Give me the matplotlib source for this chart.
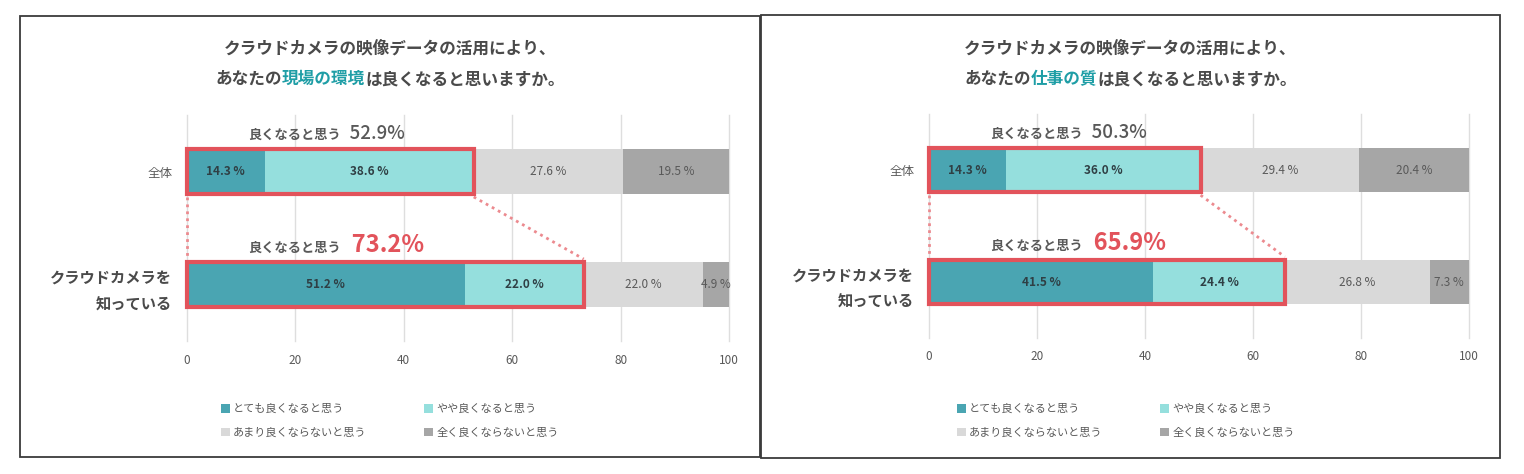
import matplotlib
matplotlib.use('Agg')
import matplotlib.pyplot as plt
from matplotlib.patches import Rectangle

plt.rcParams['font.family'] = ['Noto Sans CJK JP', 'DejaVu Sans']

W, H = 1524, 474

# data
categories = ['全体', 'クラウドカメラを\n知っている']
series_names = ['とても良くなると思う', 'やや良くなると思う',
                'あまり良くならないと思う', '全く良くならないと思う']
left_overall = [14.3, 38.6, 27.6, 19.5]
left_aware = [51.2, 22.0, 22.0, 4.9]
right_overall = [14.3, 36.0, 29.4, 20.4]
right_aware = [41.5, 24.4, 26.8, 7.3]
x_ticks = [0, 20, 40, 60, 80, 100]

title_line1 = 'クラウドカメラの映像データの活用により、'
title_pre = 'あなたの'
title_post = 'は良くなると思いますか。'
left_focus = '現場の環境'
right_focus = '仕事の質'
good_text = '良くなると思う'

colors = ['#4aa5b2', '#95dfdd', '#d9d9d9', '#a6a6a6']
label_colors = ['#2f3f44', '#2f3f44', '#595959', '#595959']
label_weights = ['bold', 'bold', 'normal', 'normal']
red = '#e2535b'
pink = '#ec8a8f'
teal = '#1f9ea6'
grey = '#595959'
dark = '#4a4a4a'

fig = plt.figure(figsize=(W / 100, H / 100), dpi=100)
renderer = fig.canvas.get_renderer()


def text_row(x, y, pieces, ha='left'):
    # place differently styled strings next to each other, x/y in fig fraction
    ts = [fig.text(x, y, s, va='baseline', ha='left', **kw) for s, kw in pieces]
    ws = [t.get_window_extent(renderer).width / W for t in ts]
    x0 = x - sum(ws) / 2 if ha == 'center' else x
    for t, w in zip(ts, ws):
        t.set_x(x0)
        x0 += w


def draw_panel(box, axbox, rows, focus, legend_xy):
    x0, y0, x1, y1 = box
    fig.patches.append(Rectangle((x0 / W, 1 - y1 / H), (x1 - x0) / W, (y1 - y0) / H,
                                 transform=fig.transFigure, fill=False,
                                 ec='#3a3a3a', lw=1.3))
    cx = (x0 + x1) / 2
    tkw = dict(fontsize=12, weight='bold', color=dark)
    text_row(cx / W, 1 - 53 / H, [(title_line1, tkw)], ha='center')
    text_row(cx / W, 1 - 84 / H,
             [(title_pre, tkw),
              (focus, dict(tkw, color=teal)),
              (title_post, tkw)], ha='center')

    al, at, ar, ab = axbox
    ax = fig.add_axes([al / W, 1 - ab / H, (ar - al) / W, (ab - at) / H])
    bh = 0.39
    handles = []
    for i, vals in enumerate(rows):
        left = 0
        for j, v in enumerate(vals):
            b = ax.barh(i, v, left=left, height=bh, color=colors[j], zorder=2)
            if i == 0:
                handles.append(b[0])
            ax.text(left + v / 2, i, f'{v:.1f} %', ha='center', va='center',
                    fontsize=8.5, color=label_colors[j], weight=label_weights[j], zorder=4)
            left += v

    goods = [r[0] + r[1] for r in rows]
    for i, g in enumerate(goods):
        ax.add_patch(Rectangle((0, i - bh / 2), g, bh, fill=False, ec=red, lw=3,
                               zorder=5, clip_on=False))
    ax.plot([0, 0], [bh / 2 + 0.03, 1 - bh / 2 - 0.03], ls=(0, (1, 1.5)), color=pink,
            lw=2, clip_on=False, zorder=3)
    ax.plot([goods[0], goods[1]], [bh / 2 + 0.03, 1 - bh / 2 - 0.03], ls=(0, (1, 1.5)),
            color=pink, lw=2, clip_on=False, zorder=3)

    for xt in x_ticks:
        ax.axvline(xt, color='#dedede', lw=1, zorder=0, clip_on=False)
    ax.set_xlim(0, 100)
    ax.set_ylim(1.5, -0.5)
    ax.set_xticks(x_ticks)
    ax.set_yticks([0, 1])
    ax.set_yticklabels(categories)
    ax.tick_params(axis='x', length=0, pad=9, labelsize=8.5, labelcolor=grey)
    ax.tick_params(axis='y', length=0, pad=10.5)
    for s in ax.spines.values():
        s.set_visible(False)
    yl = ax.get_yticklabels()
    yl[0].set_fontsize(9)
    yl[0].set_color(grey)
    yl[1].set_fontsize(11)
    yl[1].set_weight('bold')
    yl[1].set_color(dark)
    yl[1].set_linespacing(1.8)
    yl[1].set_multialignment('right')

    # summary labels above the framed parts
    big = [dict(fontsize=13.5, color=grey, weight='medium'),
           dict(fontsize=17, color=red, weight='bold')]
    for i, g in enumerate(goods):
        px, py = ax.transData.transform((11.3, i - 0.29))
        text_row(px / W, py / H,
                 [(good_text, dict(fontsize=9.5, weight='bold', color=grey)),
                  (f'  {g:.1f}%', big[i])])

    order = [0, 2, 1, 3]
    fig.legend([handles[k] for k in order], [series_names[k] for k in order],
               ncol=2, loc='upper left',
               bbox_to_anchor=(legend_xy[0] / W, 1 - legend_xy[1] / H),
               frameon=False, fontsize=8, labelcolor=grey,
               handlelength=0.8, handleheight=0.8, handletextpad=0.3,
               columnspacing=5.15, labelspacing=1.2, borderpad=0, borderaxespad=0)


draw_panel((20, 16, 760, 457), (187, 115, 729, 341),
           [left_overall, left_aware], left_focus, (221, 404))
draw_panel((761, 15, 1500, 458), (929, 114, 1469, 338),
           [right_overall, right_aware], right_focus, (957, 404))

fig.savefig('out.png', dpi=100, facecolor='white')
